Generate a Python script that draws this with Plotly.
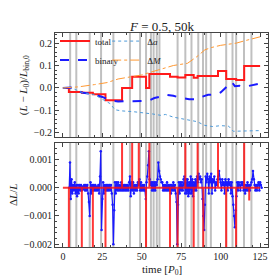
import plotly.graph_objects as go
from plotly.subplots import make_subplots

# ---------------- data ----------------
event_times = [4.6, 8.5, 17.0, 24.2, 32.0, 42.5, 48.9, 52.7, 55.8, 57.5, 59.5, 61.2,
               72.7, 77.6, 81.5, 85.8, 88.8, 90.8, 93.8, 103.5, 107.5, 109.8, 114.8, 119.5]

total_t = [0, 3.8, 12, 19, 27, 37.5, 43.9, 52.7, 54.8, 67.9, 72.7, 77.6, 82.9, 85.4,
           98.3, 103.5, 109.8, 114.9, 125]
total_v = [0, -0.018, -0.021, -0.028, -0.055, 0.0, 0.05, 0.0, 0.062, 0.05, 0.047, 0.058,
           0.045, 0.053, 0.076, 0.04, 0.036, 0.098, 0.098]

binary_t = [0, 5, 8, 12, 16, 20, 25, 28, 30, 35, 40, 45, 50, 55, 58, 62, 65, 70, 75, 80,
            85, 88, 92, 97, 100, 103, 107, 109, 112, 115, 118, 122, 125]
binary_v = [0, 0.002, -0.008, -0.02, -0.025, -0.03, -0.04, -0.05, -0.055, -0.06, -0.06,
            -0.06, -0.058, -0.055, -0.045, -0.038, -0.03, -0.035, -0.045, -0.05, -0.05,
            -0.04, -0.03, -0.03, -0.02, 0.0, 0.027, 0.008, 0.01, 0.005, 0.01, 0.015, 0.02]

da_t = [0, 5, 12, 20, 25, 28, 30, 33, 37, 45, 52, 57, 62, 65, 70, 78, 85, 90, 95, 100,
        105, 108, 115, 125]
da_v = [0, 0.002, -0.02, -0.03, -0.05, -0.06, -0.07, -0.097, -0.102, -0.106, -0.11,
        -0.116, -0.122, -0.118, -0.13, -0.14, -0.15, -0.167, -0.172, -0.168, -0.17,
        -0.193, -0.193, -0.19]

dm_t = [0, 10, 20, 25, 28, 35, 45, 50, 55, 65, 70, 79, 85, 90, 94, 100, 110, 115, 125]
dm_v = [0, 0.005, 0.015, 0.02, 0.024, 0.04, 0.05, 0.058, 0.069, 0.09, 0.1, 0.11, 0.14,
        0.17, 0.18, 0.19, 0.2, 0.21, 0.228]

# jumps of the total (beyond the axis range are clipped)
jump_t = [3.8, 12.0, 19.0, 27.0, 37.5, 43.9, 48.1, 52.7, 54.8, 67.9, 72.7, 77.6, 82.9,
          85.4, 89.0, 98.3, 103.5, 109.8, 114.9, 118.1]
jump_v = [-0.01, -0.01, -0.01, -0.01, 0.01, 0.01, 0.01, -0.01, 0.01, -0.01, -0.01, 0.01,
          -0.01, 0.01, -0.01, 0.01, -0.01, -0.01, 0.01, -0.00045]

# binary dL/L, sampled every 0.5 P0 from t = 4, in units of 1e-4
dl_start = 4.0
dl_step = 0.5
dl_vals_1e4 = [
    0, 9, -4, 3, -2, 1, -1, 2, -2, 1, -3, 1, -2, 1, -1, 1, -1, 0.5, -0.5, 1,
    -1, 1, -1, 1, -2, -5, -10, 2, -2, 1, -1, 1, -1, 1, -1, 0.5, -1, 1, -2, 4,
    13, -15, -4, 2, -2, 1, -1, 1, -1, 1, -1, 1, -1, 1, -2, -6, -20, -8, 2, -2,
    2, -1, 2, -1, 1, -1, 2, -1, 1, -1, 1, -1, 1, -1, 1, -1, 2, 4, -3, 2,
    -1, 2, -2, 1, -1, 1, -1, 2, 1, 3, -1, 2, -1, 1, -1, 1, -1, -4, 2, 4,
    8, 13, 3, 1, 2, -1, 2, -1, 2, -1, 2, 1, 3, 9, 6, 4, 3, 2, 2, -1,
    1, -1, 1, -1, 2, -1, 1, -1, 1, -2, 1, -1, 2, -1, 1, -2, -5, -20, -6, 2,
    -2, 2, -1, 2, -1, 3, 4, -2, 3, -2, 3, -3, 2, -2, 4, -2, 3, -3, 2, -1,
    3, -1, 4, 2, 5, 3, 4, 2, 3, -4, -10, -15, -6, 4, 2, 5, 3, -2, 4, 2,
    5, -2, 3, 2, 4, -1, 2, 1, 3, 4, 6, 3, 2, -1, 3, 1, 2, -2, 3, 1,
    2, -1, 3, 1, 2, -2, 2, -3, -6, -10, -14, -8, -3, 2, -1, 2, 1, -1, 2, 1,
    2, -1, 1, -2, 1, -1, 2, -1, 1, -1, 1, 2, 3, 6, 3, 1, -1, 1, -1, 1,
    2, -1, 2, 1, 0,
]

x_ticks = [0, 25, 50, 75, 100, 125]

# ---------------- figure ----------------
FONT = "Liberation Serif"
TXT = "#222"
fig = make_subplots(rows=2, cols=1, shared_xaxes=True, vertical_spacing=0.025)

fig.add_trace(go.Scatter(x=total_t, y=total_v, mode="lines", line_shape="hv",
                         line=dict(color="#ff1a1a", width=2), name="total",
                         legend="legend"), 1, 1)
fig.add_trace(go.Scatter(x=binary_t, y=binary_v, mode="lines",
                         line=dict(color="#1a1aff", width=2, dash="dash"),
                         name="binary", legend="legend"), 1, 1)
fig.add_trace(go.Scatter(x=da_t, y=da_v, mode="lines",
                         line=dict(color="#4f9bd9", width=1, dash="dot"),
                         name="Δ<i>a</i>", legend="legend2"), 1, 1)
fig.add_trace(go.Scatter(x=dm_t, y=dm_v, mode="lines",
                         line=dict(color="#ff9933", width=1, dash="dashdot"),
                         name="Δ<i>M</i>", legend="legend2"), 1, 1)

# bottom: binary dL/L
dl_t = [dl_start + dl_step * i for i in range(len(dl_vals_1e4))]
dl_v = [v * 1e-4 for v in dl_vals_1e4]
fig.add_trace(go.Scatter(x=dl_t, y=dl_v, mode="lines+markers",
                         line=dict(color="#1a1aff", width=1.2),
                         marker=dict(color="#1a1aff", size=2.5),
                         showlegend=False), 2, 1)

# bottom: total jumps as spikes from zero
sx, sy = [0], [0]
for t, v in zip(jump_t, jump_v):
    sx += [t, t, t]
    sy += [0, v, 0]
sx.append(125)
sy.append(0)
fig.add_trace(go.Scatter(x=sx, y=sy, mode="lines",
                         line=dict(color="rgba(255,20,20,0.85)", width=2),
                         showlegend=False), 2, 1)

# grey event lines
for t in event_times:
    for xr, yr in (("x", "y domain"), ("x2", "y2 domain")):
        fig.add_shape(type="line", xref=xr, yref=yr, x0=t, x1=t, y0=0, y1=1,
                      line=dict(color="rgba(150,150,150,0.6)", width=2), layer="below")

axis_common = dict(showline=True, linecolor="#444", linewidth=1, mirror="allticks",
                   ticks="inside", ticklen=4, tickcolor="#444", showgrid=False,
                   zeroline=False, tickfont=dict(family=FONT, size=10, color=TXT),
                   minor=dict(ticks="inside", ticklen=2, tickcolor="#444"))

fig.update_xaxes(**axis_common, range=[-5, 130], tickvals=x_ticks,
                 ticklabeloverflow="allow")
fig.update_xaxes(showticklabels=False, row=1, col=1)
fig.update_yaxes(**axis_common)
fig.update_yaxes(range=[-0.22, 0.245], tickvals=[-0.2, -0.1, 0.0, 0.1, 0.2],
                 tickformat=".1f",
                 title=dict(text="(<i>L</i> − <i>L</i><sub>0</sub>)/<i>L</i><sub>bin,0</sub>",
                            standoff=4, font=dict(family=FONT, size=11, color=TXT)),
                 row=1, col=1)
fig.update_yaxes(range=[-0.0021, 0.0016], tickvals=[-0.002, -0.001, 0.0, 0.001],
                 tickformat=".3f",
                 title=dict(text="Δ<i>L</i>/<i>L</i>", standoff=4,
                            font=dict(family=FONT, size=11, color=TXT)),
                 row=2, col=1)

legend_common = dict(orientation="v", yanchor="top", xanchor="left",
                     bgcolor="rgba(0,0,0,0)", tracegroupgap=0,
                     font=dict(family=FONT, size=9, color=TXT))

fig.update_layout(
    width=277, height=277,
    margin=dict(l=55, r=9, t=33, b=30),
    paper_bgcolor="white", plot_bgcolor="white",
    legend=dict(**legend_common, x=0.0, y=1.03),
    legend2=dict(**legend_common, x=0.245, y=1.03),
    showlegend=True,
    annotations=[
        dict(text="<i>F</i> = 0.5, 50k", xref="paper", yref="paper",
             x=0.5, y=0.985, xanchor="center", yanchor="bottom",
             showarrow=False, font=dict(family=FONT, size=13, color=TXT)),
        dict(text="time [<i>P</i><sub>0</sub>]", xref="paper", yref="paper",
             x=0.5, y=-0.065, xanchor="center", yanchor="top", showarrow=False,
             font=dict(family=FONT, size=11, color=TXT)),
    ],
)

fig.write_html("out.html", config={"displayModeBar": False},
               post_script="document.body.style.margin='0px';")
